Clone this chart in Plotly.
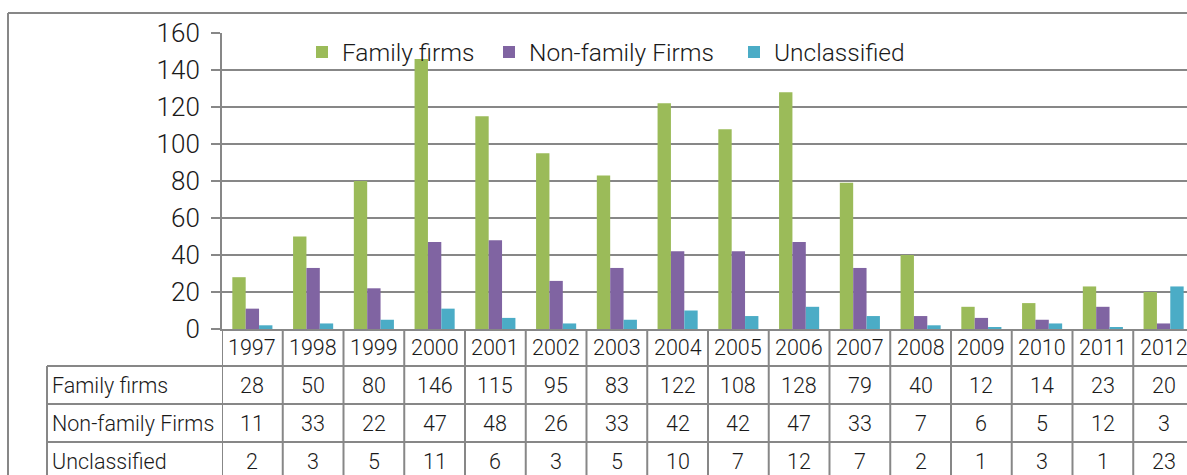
import plotly.graph_objects as go

years = ["1997", "1998", "1999", "2000", "2001", "2002", "2003", "2004",
         "2005", "2006", "2007", "2008", "2009", "2010", "2011", "2012"]
family = [28, 50, 80, 146, 115, 95, 83, 122, 108, 128, 79, 40, 12, 14, 23, 20]
nonfamily = [11, 33, 22, 47, 48, 26, 33, 42, 42, 47, 33, 7, 6, 5, 12, 3]
unclassified = [2, 3, 5, 11, 6, 3, 5, 10, 7, 12, 7, 2, 1, 3, 1, 23]
series_names = ["Family firms", "Non-family Firms", "Unclassified"]
series_colors = ["#9BBB59", "#8064A2", "#4BACC6"]
series_values = [family, nonfamily, unclassified]

W, H = 1187, 475
ML, MR, MT, MB = 222, 0, 33, 146
PW, PH = W - ML - MR, H - MT - MB
FONT = "Roboto, sans-serif"
GRID = "#878787"
TXT = "#1a1a1a"


def px_x(px):
    return (px - ML) / PW


def px_y(py):
    return (H - MB - py) / PH


legend_ids = ["legend", "legend2", "legend3"]
legend_px = [302, 489, 734]

fig = go.Figure()
for name, vals, col, lg in zip(series_names, series_values, series_colors, legend_ids):
    fig.add_trace(go.Bar(x=years, y=vals, name=name, marker_color=col,
                         marker_line_width=0, legend=lg))

shapes = []
annotations = []

# outer chart frame
shapes.append(dict(type="line", xref="paper", yref="paper", x0=px_x(8), x1=1.05,
                   y0=px_y(13), y1=px_y(13), line=dict(color=GRID, width=2)))
shapes.append(dict(type="line", xref="paper", yref="paper", x0=px_x(8), x1=px_x(8),
                   y0=px_y(13), y1=px_y(480), line=dict(color=GRID, width=2)))

row_tops = [329, 366, 404, 442, 480]
for yt in row_tops[1:4]:
    shapes.append(dict(type="line", xref="paper", yref="paper", x0=px_x(47), x1=1.05,
                       y0=px_y(yt), y1=px_y(yt), line=dict(color=GRID, width=2)))
for i in range(len(years) + 1):
    shapes.append(dict(type="line", xref="x", yref="paper", x0=i - 0.5, x1=i - 0.5,
                       y0=px_y(329), y1=px_y(480), line=dict(color=GRID, width=2)))
shapes.append(dict(type="line", xref="paper", yref="paper", x0=px_x(47), x1=px_x(47),
                   y0=px_y(366), y1=px_y(480), line=dict(color=GRID, width=2)))

TBL = 21.5
tfont = dict(size=TBL, color=TXT, family=FONT, weight=300)
for i, yr in enumerate(years):
    annotations.append(dict(x=i, xref="x", y=px_y((row_tops[0] + row_tops[1]) / 2),
                            yref="paper", text=yr, showarrow=False, font=tfont,
                            xanchor="center", yanchor="middle"))
for r, (name, vals) in enumerate(zip(series_names, series_values)):
    yc = px_y((row_tops[r + 1] + row_tops[r + 2]) / 2)
    annotations.append(dict(x=px_x(50), xref="paper", y=yc, yref="paper", text=name,
                            showarrow=False, font=tfont,
                            xanchor="left", yanchor="middle"))
    for i, v in enumerate(vals):
        annotations.append(dict(x=i, xref="x", y=yc, yref="paper", text=str(v),
                                showarrow=False, font=tfont,
                                xanchor="center", yanchor="middle"))

legend_common = dict(orientation="h", xanchor="left", y=px_y(52), yanchor="middle",
                     font=dict(size=24.5, family=FONT, color=TXT, weight=300),
                     bgcolor="rgba(0,0,0,0)", itemwidth=30)

fig.update_layout(
    width=W, height=H,
    margin=dict(l=ML, r=MR, t=MT, b=MB, pad=0),
    paper_bgcolor="white", plot_bgcolor="white",
    barmode="group", bargap=0.34, bargroupgap=0,
    font=dict(family=FONT, color=TXT, size=25),
    showlegend=True,
    legend=dict(x=px_x(legend_px[0]), **legend_common),
    legend2=dict(x=px_x(legend_px[1]), **legend_common),
    legend3=dict(x=px_x(legend_px[2]), **legend_common),
    xaxis=dict(type="category", range=[-0.5, 15.385], showticklabels=False,
               showgrid=False, showline=True, linecolor=GRID, linewidth=2,
               ticks="", zeroline=False, fixedrange=True),
    yaxis=dict(range=[0, 160], tickvals=[0, 20, 40, 60, 80, 100, 120, 140, 160],
               showgrid=True, gridcolor=GRID, gridwidth=2, showline=True,
               linecolor=GRID, linewidth=2, ticks="outside", ticklen=9,
               tickcolor=GRID, tickwidth=2, zeroline=False,
               tickfont=dict(size=26, family=FONT, color=TXT, weight=300),
               ticklabelstandoff=6),
    shapes=shapes,
    annotations=annotations,
)

fig.write_html("out.html")
